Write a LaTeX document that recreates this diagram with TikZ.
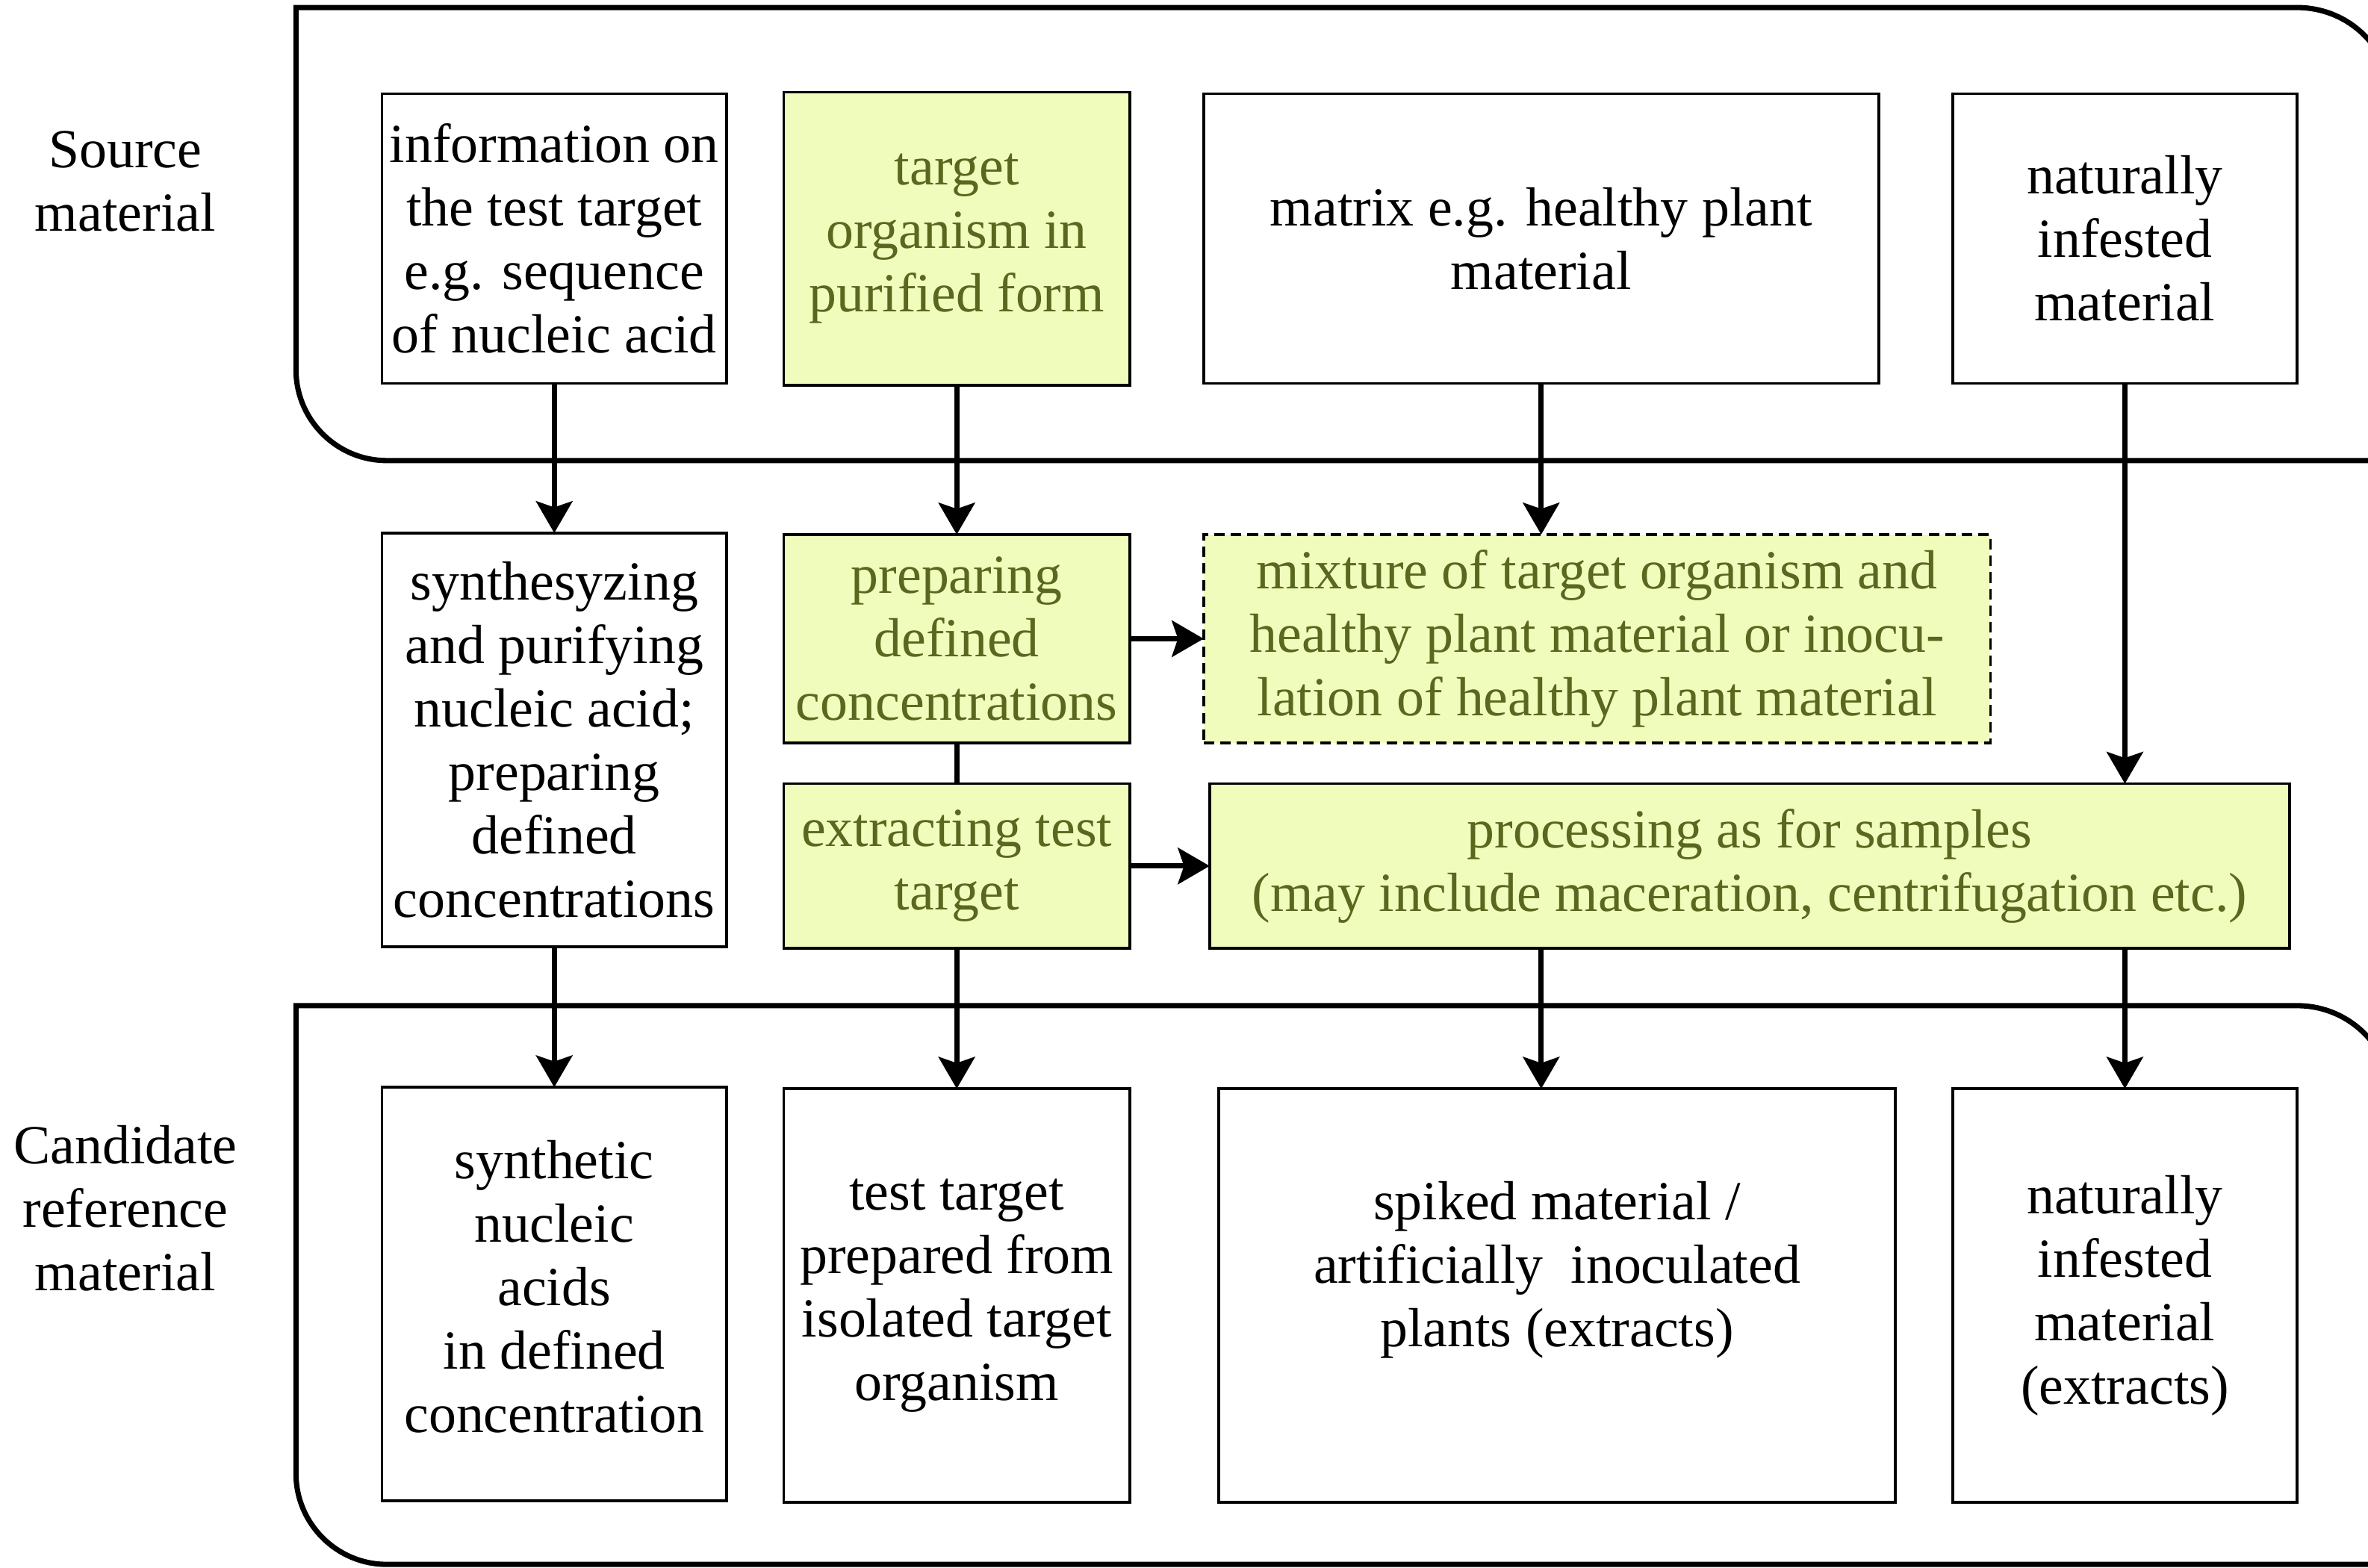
\documentclass[tikz,border=0pt]{standalone}
\usepackage{fontspec}
\setmainfont{Liberation Serif}
\usepackage{xcolor}
\usetikzlibrary{arrows.meta,positioning}

\definecolor{limefill}{RGB}{240,252,188}
\definecolor{olivetext}{RGB}{88,104,30}

\begin{document}
\begin{tikzpicture}[x=1pt, y=-1pt, >={Stealth[length=21pt,width=24pt,inset=4pt]}]
        \tikzstyle{block} = [rectangle, draw, line width=1.8pt, fill=white, align=center, inner sep=0pt, outer sep=0pt, font=\fontsize{36.5}{42}\selectfont]
        \tikzstyle{gblock} = [block, fill=limefill, text=olivetext]
        \tikzstyle{lbl} = [align=center, font=\fontsize{36.5}{42}\selectfont]
        \tikzstyle{line} = [draw, ->, line width=3.6pt]
        \tikzstyle{frame} = [draw, line width=3.5pt]

        \useasboundingbox (0,0) rectangle (1568,1038);

        % the two rounded frames, cut off at the right
        \path [frame] (1650,305) -- (256,305) .. controls (223,305) and (196,278) .. (196,245) -- (196,5) -- (1521,5) .. controls (1556,5) and (1584,33) .. (1584,68) -- (1584,400);
        \path [frame] (1650,1036) -- (256,1036) .. controls (223,1036) and (196,1009) .. (196,976) -- (196,666) -- (1521,666) .. controls (1556,666) and (1584,694) .. (1584,729) -- (1584,1100);

        \node [lbl] (srclbl) at (83,120) {Source\\material};
        \node [lbl] (candlbl) at (83,800) {Candidate\\reference\\material};

        % source material
        \node [block, minimum width=228pt, minimum height=192pt] (info) at (367,158) {information on\\the test target\\e.g. sequence\\of nucleic acid};
        \node [gblock, minimum width=229pt, minimum height=194pt, right=38pt of info] (target) {target\\organism in\\purified form};
        \node [block, minimum width=447pt, minimum height=192pt, right=49pt of target] (matrix) {matrix e.g. healthy plant\\material};
        \node [block, minimum width=228pt, minimum height=192pt, right=49pt of matrix] (natinf) {naturally\\infested\\material};

        % processing steps
        \node [block, minimum width=228pt, minimum height=274pt, below=99pt of info] (synth) {synthesyzing\\and purifying\\nucleic acid;\\preparing\\defined\\concentrations};
        \node [gblock, minimum width=229pt, minimum height=138pt, below=99pt of target] (prep) {preparing\\defined\\concentrations};
        \node [gblock, dashed, dash pattern=on 7pt off 4pt, minimum width=521pt, minimum height=138pt, right=49pt of prep] (mix) {mixture of target organism and\\healthy plant material or inocu-\\lation of healthy plant material};
        \node [gblock, minimum width=229pt, minimum height=109pt, below=27pt of prep] (extr) {extracting test\\target};
        \node [gblock, minimum width=715pt, minimum height=109pt, right=53pt of extr] (proc) {processing as for samples\\(may include maceration, centrifugation etc.)};

        % candidate reference material
        \node [block, minimum width=228pt, minimum height=274pt, below=93pt of synth] (synthetic) {synthetic\\nucleic\\acids\\in defined\\concentration\\[-32pt]};
        \node [block, minimum width=229pt, minimum height=274pt, below=93pt of extr] (testt) {test target\\prepared from\\isolated target\\organism};
        \node [block, minimum width=448pt, minimum height=274pt, right=59pt of testt] (spiked) {spiked material /\\artificially\ \ inoculated\\plants (extracts)\\[0pt]};
        \node [block, minimum width=228pt, minimum height=274pt, right=38pt of spiked] (natext) {naturally\\infested\\material\\(extracts)};

        \path [line] (info) -- (synth);
        \path [line] (target) -- (prep);
        \path [line] (matrix) -- (matrix |- mix.north);
        \path [line] (natinf) -- (natinf |- proc.north);
        \path [line] (prep) -- (mix);
        \draw [line width=3.6pt] (prep) -- (extr);
        \path [line] (extr) -- (proc);
        \path [line] (synth) -- (synthetic);
        \path [line] (extr) -- (testt);
        \path [line] (proc.south -| matrix) -- (spiked.north -| matrix);
        \path [line] (proc.south -| natinf) -- (natext);
    \end{tikzpicture}
\end{document}
